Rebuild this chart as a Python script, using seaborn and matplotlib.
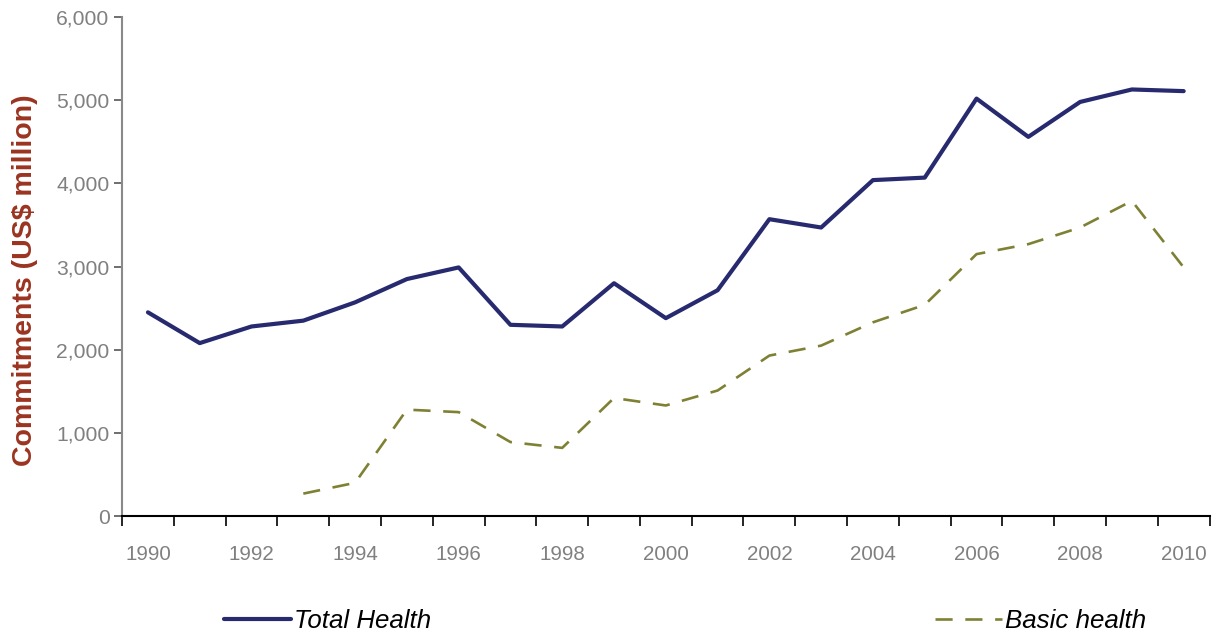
import numpy as np
import pandas as pd
import matplotlib
matplotlib.use("Agg")
import matplotlib.pyplot as plt
import seaborn as sns

years = list(range(1990, 2011))
total_health = [2450, 2080, 2280, 2350, 2570, 2850, 2990, 2300, 2280, 2800, 2380,
                2716, 3570, 3470, 4040, 4070, 5020, 4560, 4980, 5130, 5110]
basic_health = [np.nan, np.nan, np.nan, 270, 400, 1280, 1250, 890, 820, 1420, 1330,
                1510, 1930, 2050, 2330, 2540, 3150, 3270, 3470, 3790, 2990]
series_names = ["Total Health", "Basic health"]
y_label = "Commitments (US$ million)"

sns.set_theme(style="white")
plt.rcParams["font.family"] = ["Liberation Sans", "DejaVu Sans"]

df = pd.DataFrame({"year": years, series_names[0]: total_health, series_names[1]: basic_health})

fig = plt.figure(figsize=(12.12, 6.34), dpi=100)
ax = fig.add_axes([0.1007, 0.186, 0.8973, 0.787])

navy = "#272A6F"
olive = "#7E8133"
sns.lineplot(data=df, x="year", y=series_names[0], ax=ax, color=navy, linewidth=3.0,
             label=series_names[0])
sns.lineplot(data=df, x="year", y=series_names[1], ax=ax, color=olive, linewidth=1.9,
             label=series_names[1], dashes=False)
ax.lines[1].set_dashes([6.5, 4.8])

ax.set_xlim(1989.5, 2010.5)
ax.set_ylim(0, 6000)
ax.set_yticks(range(0, 6001, 1000))
ax.set_yticklabels([f"{v:,}" for v in range(0, 6001, 1000)])
ax.set_xticks(np.arange(1989.5, 2011, 1.0))
ax.set_xticklabels([])
ax.set_xticks(years[::2], minor=True)
ax.set_xticklabels([str(y) for y in years[::2]], minor=True)

ax.tick_params(axis="x", which="major", direction="out", length=7, width=1.2, color="black", bottom=True)
ax.tick_params(axis="x", which="minor", length=0, labelsize=14.8, labelcolor="#808080", pad=21, bottom=True)
ax.tick_params(axis="y", direction="out", length=6, width=1.2, color="#555555", labelsize=15.2,
               labelcolor="#808080", pad=3, left=True)

for s in ["top", "right"]:
    ax.spines[s].set_visible(False)
ax.spines["left"].set_color("#8A8A8A")
ax.spines["left"].set_linewidth(1.5)
ax.spines["bottom"].set_color("black")
ax.spines["bottom"].set_linewidth(1.5)

ax.set_xlabel("")
ax.set_ylabel(y_label, fontsize=20.5, fontweight="bold", color="#9B3421")
ax.yaxis.set_label_coords(-0.077, 0.472)

handles, labels = ax.get_legend_handles_labels()
ax.get_legend().remove()
leg = fig.legend(handles, labels, loc="center", bbox_to_anchor=(0.565, 0.020), ncol=2,
                 frameon=False, handlelength=2.6, columnspacing=19.5, handletextpad=0.12,
                 prop={"size": 18.6, "style": "italic"}, labelcolor="black")

fig.savefig("out.png", dpi=100)
